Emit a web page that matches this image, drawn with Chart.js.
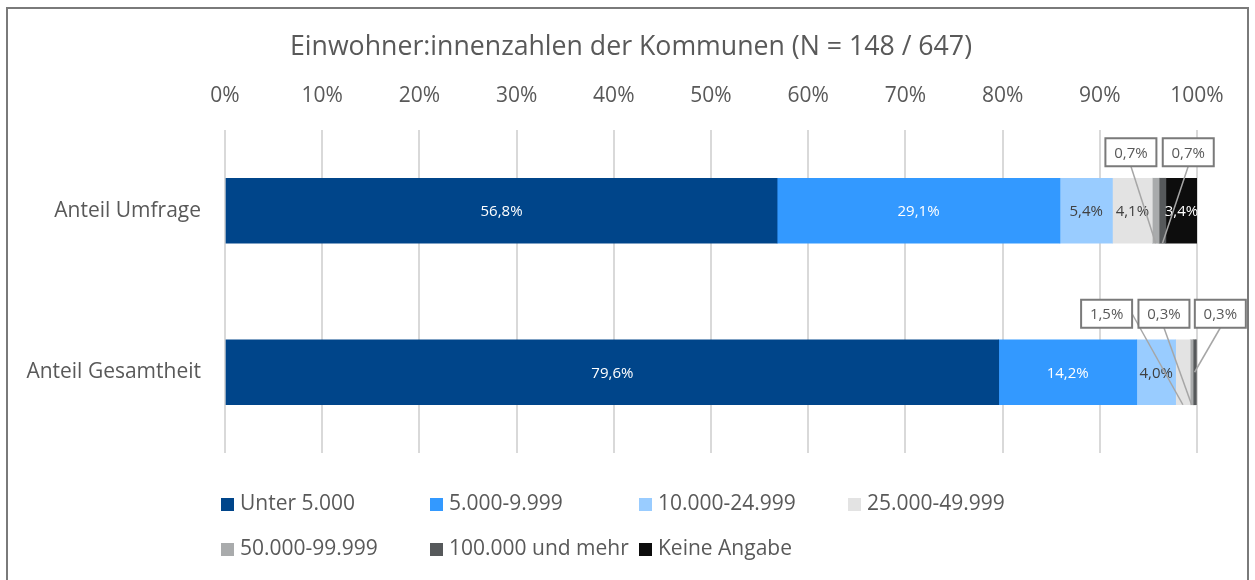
<!DOCTYPE html>
<html>
<head>
<meta charset="utf-8">
<script src="https://cdn.jsdelivr.net/npm/chart.js@4.4.1/dist/chart.umd.min.js"></script>
<style>
  html, body { margin: 0; padding: 0; background: #fff; }
  #wrap { width: 1255px; height: 580px; position: relative; }
</style>
</head>
<body>
<div id="wrap"><canvas id="chart"></canvas></div>
<script>
// categories and series (percent per class of municipality size)
const categories = ['Anteil Umfrage', 'Anteil Gesamtheit'];
const seriesNames = ['Unter 5.000', '5.000-9.999', '10.000-24.999', '25.000-49.999',
  '50.000-99.999', '100.000 und mehr', 'Keine Angabe'];
const unter5000 = [56.8, 79.6];
const von5000 = [29.1, 14.2];
const von10000 = [5.4, 4.0];
const von25000 = [4.1, 1.5];
const von50000 = [0.7, 0.3];
const ab100000 = [0.7, 0.3];
const keineAngabe = [3.4, 0];
const xTickLabels = ['0%', '10%', '20%', '30%', '40%', '50%', '60%', '70%', '80%', '90%', '100%'];

const titleText = 'Einwohner:innenzahlen der Kommunen (N = 148 / 647)';
const colors = ['#00458a', '#3399ff', '#99ccff', '#e3e3e3', '#a9abac', '#56595b', '#0d0d0d'];
const labelColors = ['#ffffff', '#ffffff', '#404040', '#404040', '#404040', '#ffffff', '#ffffff'];
const textGray = '#595959';

// small values are shown in callout boxes instead of inside the bar
// (ds = dataset index, row = category index, at = box centre on the x scale)
const callouts = [
  { ds: 4, row: 0, at: 93.2, from: 'bottom', to: 'bottom' },
  { ds: 5, row: 0, at: 99.1, from: 'bottom', to: 'bottom' },
  { ds: 3, row: 1, at: 90.7, from: 'right', to: 'bottom' },
  { ds: 4, row: 1, at: 96.6, from: 'bottom', to: 'bottom' },
  { ds: 5, row: 1, at: 102.4, from: 'bottom', to: 'middle' }
];

const fmt = v => v.toFixed(1).replace('.', ',') + '%';

Chart.defaults.font.family = "'Open Sans', sans-serif";
Chart.defaults.color = textGray;

const seriesValues = [unter5000, von5000, von10000, von25000, von50000, ab100000, keineAngabe];

const frameAndTitle = {
  id: 'frameAndTitle',
  beforeDraw(chart) {
    const ctx = chart.ctx;
    ctx.save();
    ctx.fillStyle = '#ffffff';
    ctx.fillRect(0, 0, chart.width, chart.height);
    ctx.restore();
  },
  afterDraw(chart) {
    const ctx = chart.ctx;
    ctx.save();
    ctx.strokeStyle = '#7a7a7a';
    ctx.lineWidth = 2;
    ctx.strokeRect(7, 8, 1241, 620);
    ctx.fillStyle = textGray;
    ctx.font = "26.7px 'Open Sans', sans-serif";
    ctx.textAlign = 'center';
    ctx.textBaseline = 'middle';
    ctx.fillText(titleText, 631, 47);
    ctx.restore();
  }
};

const segmentLabels = {
  id: 'segmentLabels',
  afterDatasetsDraw(chart) {
    const ctx = chart.ctx;
    const xScale = chart.scales.x;
    ctx.save();
    ctx.font = "15px 'Open Sans', sans-serif";
    ctx.textAlign = 'center';
    ctx.textBaseline = 'middle';
    chart.data.datasets.forEach((ds, i) => {
      const meta = chart.getDatasetMeta(i);
      meta.data.forEach((bar, row) => {
        const v = ds.data[row];
        if (!v) return;
        if (callouts.some(c => c.ds === i && c.row === row)) return;
        const right = Math.min(bar.x, xScale.right);
        ctx.fillStyle = labelColors[i];
        ctx.fillText(fmt(v), (bar.base + right) / 2, bar.y + 1);
      });
    });

    // callouts: leader lines first, then boxes on top
    const boxW = 51, boxH = 28;
    const boxes = callouts.map(c => {
      const bar = chart.getDatasetMeta(c.ds).data[c.row];
      const cx = xScale.getPixelForValue(c.at);
      const cy = bar.y - bar.height / 2 - 26;
      return { c, bar, cx, cy };
    });
    ctx.strokeStyle = '#a6a6a6';
    ctx.lineWidth = 1.5;
    boxes.forEach(b => {
      const segX = (b.bar.base + b.bar.x) / 2;
      const sx = b.c.from === 'right' ? b.cx + boxW / 2 : b.cx;
      const sy = b.c.from === 'right' ? b.cy : b.cy + boxH / 2;
      const ey = b.c.to === 'middle' ? b.bar.y : b.bar.y + b.bar.height / 2;
      ctx.beginPath();
      ctx.moveTo(sx, sy);
      ctx.lineTo(segX, ey);
      ctx.stroke();
    });
    boxes.forEach(b => {
      ctx.fillStyle = '#ffffff';
      ctx.fillRect(b.cx - boxW / 2, b.cy - boxH / 2, boxW, boxH);
      ctx.strokeStyle = '#7a7a7a';
      ctx.lineWidth = 2;
      ctx.strokeRect(b.cx - boxW / 2, b.cy - boxH / 2, boxW, boxH);
      ctx.fillStyle = textGray;
      ctx.fillText(fmt(chart.data.datasets[b.c.ds].data[b.c.row]), b.cx, b.cy + 1);
    });
    ctx.restore();
  }
};

const bottomLegend = {
  id: 'bottomLegend',
  afterDraw(chart) {
    const ctx = chart.ctx;
    const left = chart.chartArea.left - 4;
    ctx.save();
    ctx.font = "21px 'Open Sans', sans-serif";
    ctx.textAlign = 'left';
    ctx.textBaseline = 'middle';
    chart.data.datasets.forEach((ds, i) => {
      const col = i % 4, row = Math.floor(i / 4);
      const x = left + col * 209;
      const y = 504.5 + row * 45;
      ctx.fillStyle = ds.backgroundColor;
      ctx.fillRect(x, y - 6.5, 13, 13);
      ctx.fillStyle = textGray;
      ctx.fillText(ds.label, x + 19, y);
    });
    ctx.restore();
  }
};

new Chart(document.getElementById('chart'), {
  type: 'bar',
  data: {
    labels: categories,
    datasets: seriesNames.map((name, i) => ({
      label: name,
      data: seriesValues[i],
      backgroundColor: colors[i],
      borderWidth: 0,
      barThickness: 65
    }))
  },
  options: {
    indexAxis: 'y',
    responsive: true,
    maintainAspectRatio: false,
    animation: false,
    layout: { padding: { top: 0, left: 0, right: 58, bottom: 127 } },
    plugins: {
      legend: { display: false },
      title: { display: false },
      tooltip: { enabled: false }
    },
    scales: {
      x: {
        position: 'top',
        stacked: true,
        min: 0,
        max: 100,
        afterFit: s => { s.height = 130; },
        border: { display: false },
        grid: { color: '#d9d9d9', lineWidth: 2, drawTicks: false },
        ticks: {
          stepSize: 10,
          padding: 21,
          font: { size: 21 },
          color: textGray,
          callback: (v, idx) => xTickLabels[idx]
        }
      },
      y: {
        stacked: true,
        afterFit: s => { s.width = 225; },
        border: { display: false },
        grid: { display: false, drawTicks: false },
        ticks: { padding: 24, font: { size: 21 }, color: textGray }
      }
    }
  },
  plugins: [frameAndTitle, segmentLabels, bottomLegend]
});
</script>
</body>
</html>
